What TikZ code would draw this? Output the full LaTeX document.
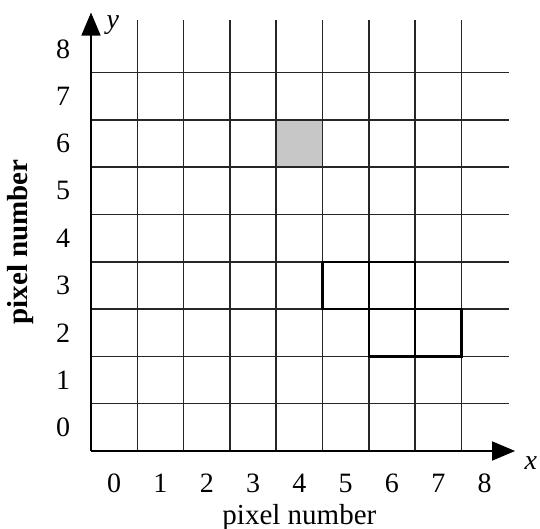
\documentclass[tikz,border=0pt]{standalone}
\usepackage{fontspec}
\setmainfont{Liberation Serif}
\usetikzlibrary{arrows.meta}

\tikzset{
  gridline/.style={line width=1.5pt,black!85},
  axisline/.style={line width=1.6pt,-{Triangle[length=23pt,width=19pt]}},
  cellmark/.style={line width=2.3pt,black},
  numlabel/.style={font=\fontsize{28}{30}\selectfont,inner sep=0pt},
  axislabel/.style={font=\fontsize{29}{31}\selectfont,inner sep=0pt}
}

\begin{document}
\begin{tikzpicture}[x=46.3pt,y=47.3pt]
  \useasboundingbox (-91pt,-78pt) rectangle (449pt,451pt);
  % highlighted pixel
  \fill[black!22] (4,6) rectangle (5,7);
  % grid
  \foreach \k in {1,...,8} {
    \draw[gridline] (\k,0) -- (\k,9.11);
    \draw[gridline] (0,\k) -- (9.03,\k);
  }
  % outlined pixels
  \draw[cellmark] (5,3) rectangle (6,4);
  \draw[cellmark] (6,3) rectangle (7,4);
  \draw[cellmark] (6,2) rectangle (7,3);
  \draw[cellmark] (7,2) rectangle (8,3);
  % axes
  \coordinate (O) at (0,0);
  \coordinate (xend) at (9.16,0);
  \coordinate (yend) at (0,9.27);
  \draw[axisline] (O) -- (xend);
  \draw[axisline] (O) -- (yend);
  \node[numlabel,font=\fontsize{28}{30}\selectfont\itshape] (xname) at (9.5,-0.25) {x};
  \node[numlabel,font=\fontsize{28}{30}\selectfont\itshape] (yname) at (0.47,9.0) {y};
  % pixel numbers
  \foreach \i in {0,...,8} {
    \node[numlabel] (lx\i) at (\i+0.5,-0.68) {\i};
    \node[numlabel] (ly\i) at (-0.6,\i+0.5) {\i};
  }
  \node[axislabel] (xtitle) at (4.5,-1.40) {pixel number};
  \node[axislabel,font=\fontsize{29}{31}\selectfont\bfseries,rotate=90] (ytitle) at (-1.53,4.42) {pixel number};
\end{tikzpicture}
\end{document}
